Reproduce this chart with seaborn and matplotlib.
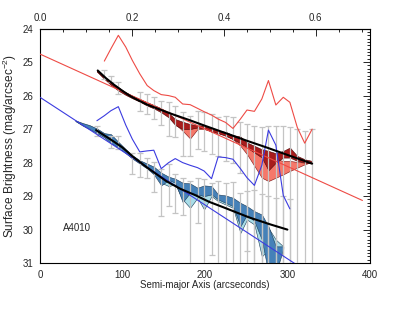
import numpy as np
import matplotlib
matplotlib.use("Agg")
import matplotlib.pyplot as plt
from matplotlib.ticker import MultipleLocator, FixedLocator, FormatStrFormatter
import seaborn as sns

# -----------------------------
# Data
# -----------------------------
# straight model lines (endpoints)
red_model_r = [0, 391]
red_model_mag = [24.76, 29.13]
blue_model_r = [0, 320]
blue_model_mag = [26.05, 31.19]

# radius grid of the upper (red) profile
r_up = [69, 78, 86, 95, 104, 112, 121, 130, 138, 147, 156, 164, 173, 182, 191, 199,
        208, 216, 225, 234, 243, 251, 260, 269, 277, 286, 295, 303, 312, 321, 330]
red_dark_top = [25.25, 25.45, 25.6, 25.75, 25.9, 26.0, 26.1, 26.2, 26.28, 26.38, 26.52, 26.7,
                26.78, 26.85, 26.88, 26.9, 26.98, 27.05, 27.08, 27.18, 27.22, 27.4, 27.5,
                27.6, 27.65, 27.72, 27.65, 27.55, 27.8, 27.9, 27.95]
red_dark_bot = [25.28, 25.5, 25.68, 25.85, 25.98, 26.08, 26.18, 26.3, 26.38, 26.5, 26.65, 26.88,
                27.0, 27.0, 26.95, 26.98, 27.08, 27.12, 27.2, 27.3, 27.42, 27.55, 27.7,
                27.85, 28.23, 28.0, 27.85, 27.85, 27.95, 28.0, 28.03]
red_light_top = [25.26, 25.47, 25.62, 25.78, 25.92, 26.02, 26.12, 26.22, 26.3, 26.4, 26.55, 26.75,
                 26.9, 26.95, 26.95, 26.95, 27.02, 27.08, 27.12, 27.2, 27.3, 27.45, 27.55,
                 27.65, 27.8, 27.9, 27.95, 27.95, 27.98, 28.0, 28.0]
red_light_bot = [25.28, 25.49, 25.66, 25.82, 25.96, 26.06, 26.16, 26.27, 26.35, 26.47, 26.62, 26.85,
                 27.05, 27.28, 27.0, 27.0, 27.06, 27.12, 27.18, 27.3, 27.5, 27.75, 28.1,
                 28.45, 28.55, 28.45, 28.35, 28.25, 28.15, 28.05, 27.98]
red_thin = [np.nan, 24.97, 24.6, 24.2, 24.55, 24.95, 25.35, 25.7, 25.85, 25.97, 26.0, 26.05,
            26.25, 26.27, 26.38, 26.48, 26.58, 26.7, 26.8, 26.98, 26.7, 26.43, 26.47,
            26.1, 25.55, 26.28, 26.05, 26.2, 26.95, 27.42, 27.0]
up_bar_top = [np.nan, 25.25, 25.4, 25.58, np.nan, np.nan, 25.9, 25.95, 26.05, 26.15, 26.2, 26.3,
              26.5, 26.6, 26.45, 26.5, 26.55, 26.63, 26.6, 26.65, 26.8, 26.85, 26.9,
              26.95, 26.9, 26.9, 26.9, 26.95, 27.0, 27.05, 27.0]
up_bar_bot = [np.nan, 25.5, 25.6, 25.95, np.nan, np.nan, 26.45, 26.55, 26.7, 26.88, 27.2, 27.25,
              27.8, 27.8, 27.6, 27.65, 27.75, 27.8, 27.95, 28.0, 28.3, 31.5, 31.5,
              31.5, 31.5, 31.5, 31.5, 31.5, 31.5, 31.5, 31.5]

# radius grid of the lower (blue) profile
r_low = [43, 52, 60, 69, 78, 86, 95, 104, 112, 121, 130, 138, 147, 156, 164, 173,
         182, 191, 199, 208, 216, 225, 234, 243, 251, 260, 269, 277, 286, 295, 303]
blue_dark_top = [26.74, 26.82, 26.88, 26.98, 27.12, 27.15, 27.38, 27.6, 27.78, 27.93, 28.03, 28.12,
                 28.3, 28.42, 28.48, 28.6, 28.62, 28.75, 28.68, 28.7, 28.95, 28.98, 29.05,
                 29.2, 29.3, 29.45, 29.55, 29.9, 30.5, 30.5, np.nan]
blue_dark_bot = [26.76, 26.9, 27.0, 27.12, 27.25, 27.42, 27.55, 27.72, 27.88, 28.03, 28.18, 28.35,
                 28.68, 28.52, 28.6, 29.18, 28.9, 28.95, 29.0, 28.95, 29.1, 29.2, 29.3,
                 29.9, 29.55, 29.75, 30.3, 31.3, 31.3, 30.58, np.nan]
blue_light_top = [26.75, 26.84, 26.9, 27.0, 27.14, 27.2, 27.4, 27.62, 27.8, 27.95, 28.05, 28.15,
                  28.35, 28.45, 28.5, 28.7, 28.8, 28.85, 28.9, 28.85, 29.0, 29.05, 29.1,
                  29.3, 29.4, 29.55, 29.7, 29.95, 30.3, 30.5, np.nan]
blue_light_bot = [26.76, 26.88, 26.98, 27.1, 27.23, 27.38, 27.53, 27.7, 27.86, 28.01, 28.15, 28.32,
                  28.6, 28.7, 28.65, 29.1, 29.35, 29.05, 29.4, 29.0, 29.15, 29.25, 29.35,
                  30.1, 29.7, 29.85, 30.8, 30.6, 30.5, 30.55, np.nan]
blue_thin = [np.nan, np.nan, np.nan, 26.75, 26.6, 26.45, 26.33, 26.88, 27.3, 27.68, 27.65, 27.63,
             28.18, 28.0, 27.88, 28.0, 28.08, 28.15, 28.25, 28.48, 27.83, 27.85, 27.9,
             28.18, 28.45, 28.68, 28.08, 27.03, 27.48, 28.98, 29.38]
low_bar_top = [np.nan, np.nan, np.nan, 26.9, np.nan, 27.2, 27.2, np.nan, 27.7, 27.7, 27.85, 27.98,
               28.2, 28.05, 28.35, 28.45, 28.55, 28.45, 28.5, 28.6, 28.55, 28.6, 28.58,
               28.9, 28.85, 28.83, 28.95, 29.0, 29.05, 29.0, 29.1]
low_bar_bot = [np.nan, np.nan, np.nan, 27.2, np.nan, 27.55, 27.58, np.nan, 28.35, 28.42, 28.45, 28.88,
               29.6, 29.3, 29.5, 29.55, 31.5, 29.8, 31.5, 30.75, 31.5, 31.5, 31.5,
               31.5, 30.65, 31.5, 31.5, 31.5, 31.5, 31.5, 31.5]

# black fitted profiles
fit_up_r = [70, 80, 90, 100, 110, 120, 130, 145, 160, 180, 200, 225, 250, 275, 300, 330]
fit_up_mag = [25.25, 25.48, 25.68, 25.86, 26.02, 26.15, 26.27, 26.41, 26.55, 26.72, 26.9,
              27.12, 27.34, 27.55, 27.77, 28.03]
fit_low_r = [68, 80, 90, 100, 113, 129, 153, 170, 189, 205, 222, 254, 280, 300]
fit_low_mag = [27.03, 27.22, 27.38, 27.55, 27.83, 28.13, 28.55, 28.78, 28.98, 29.17, 29.33,
               29.64, 29.85, 30.0]

top_ticks = [0.0, 0.2, 0.4, 0.6]
mpc_per_arcsec = 0.001794

# -----------------------------
# Plot
# -----------------------------
sns.set_style("white")
plt.rcParams['font.family'] = ['Liberation Sans', 'DejaVu Sans']
plt.rcParams['mathtext.fontset'] = 'custom'
plt.rcParams['mathtext.rm'] = 'Liberation Sans'

fig = plt.figure(figsize=(3.96, 3.11), dpi=100)
ax = fig.add_axes([0.101, 0.154, 0.833, 0.754])

# bands
ax.fill_between(r_up, red_light_top, red_light_bot, color="#f5786a", edgecolor="#7a1010", lw=0.4, zorder=2)
ax.fill_between(r_up, red_dark_top, red_dark_bot, color="#a81c1c", edgecolor="#4a0808", lw=0.4, zorder=2)
ax.fill_between(r_low, blue_light_top, blue_light_bot, color="#a8dde8", edgecolor="#1c3a55", lw=0.4, zorder=2)
ax.fill_between(r_low, blue_dark_top, blue_dark_bot, color="#4581b8", edgecolor="#1c3a55", lw=0.4, zorder=2)

# error bars
for rr, top, bot in [(r_up, up_bar_top, up_bar_bot), (r_low, low_bar_top, low_bar_bot)]:
    top = np.array(top)
    bot = np.array(bot)
    mid = (top + bot) / 2
    half = (bot - top) / 2
    ax.errorbar(rr, mid, yerr=half, fmt='none', ecolor="#c4c4c4", elinewidth=0.9,
                capsize=2, capthick=0.9, zorder=3)

# straight model lines and thin profiles
sns.lineplot(x=red_model_r, y=red_model_mag, color="#ee4b45", lw=0.8, ax=ax, zorder=4)
sns.lineplot(x=blue_model_r, y=blue_model_mag, color="#3b3be0", lw=0.8, ax=ax, zorder=4)
sns.lineplot(x=r_up, y=red_thin, color="#ee4b45", lw=0.8, sort=False, estimator=None, ax=ax, zorder=4)
sns.lineplot(x=r_low, y=blue_thin, color="#3b3be0", lw=0.8, sort=False, estimator=None, ax=ax, zorder=4)

# black fits
sns.lineplot(x=fit_up_r, y=fit_up_mag, color="black", lw=1.5, sort=False, estimator=None, ax=ax, zorder=5)
sns.lineplot(x=fit_low_r, y=fit_low_mag, color="black", lw=1.5, sort=False, estimator=None, ax=ax, zorder=5)

ax.text(28, 29.95, "A4010", fontsize=7, va="center")

ax.set_xlim(0, 400)
ax.set_ylim(31, 24)
ax.xaxis.set_major_locator(MultipleLocator(100))
ax.xaxis.set_minor_locator(MultipleLocator(10))
ax.yaxis.set_major_locator(MultipleLocator(1))
ax.yaxis.set_minor_locator(MultipleLocator(0.1))
ax.tick_params(which="both", direction="in", top=False, right=True, labelsize=7, width=0.7)
ax.tick_params(which="major", length=5, pad=5)
ax.tick_params(which="minor", length=2.5)

secax = ax.secondary_xaxis("top", functions=(lambda r: r * mpc_per_arcsec,
                                              lambda d: d / mpc_per_arcsec))
secax.xaxis.set_major_locator(FixedLocator(top_ticks))
secax.xaxis.set_minor_locator(FixedLocator([i * 0.05 for i in range(15)]))
secax.xaxis.set_major_formatter(FormatStrFormatter("%.1f"))
secax.tick_params(which="both", direction="in", labelsize=7, width=0.7)
secax.tick_params(which="major", length=5, pad=4)
secax.tick_params(which="minor", length=2.5)

for sp in ax.spines.values():
    sp.set_linewidth(0.8)
    sp.set_color("black")

ax.set_xlabel("Semi-major Axis (arcseconds)", fontsize=7, labelpad=0)
ax.set_ylabel("Surface Brightness (mag/arcsec$^{-2}$)", fontsize=8.6, labelpad=2)

fig.savefig("out.png", dpi=100)
